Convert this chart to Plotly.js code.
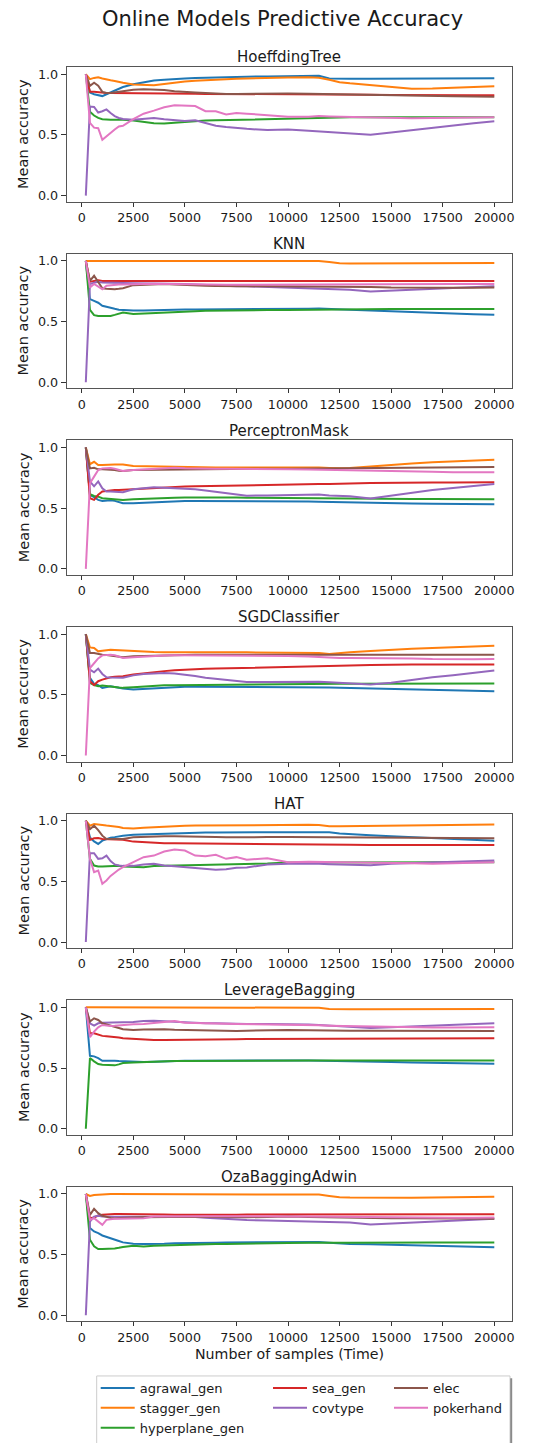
<!DOCTYPE html>
<html><head><meta charset="utf-8">
<script src="https://cdn.plot.ly/plotly-3.0.1.min.js"></script>
<style>html,body{margin:0;padding:0;background:#fff;}#chart{width:547px;height:1443px;}</style>
</head><body><div id="chart"></div>
<script>
// ---- data ----
const SAMPLES = [200,400,600,800,1000,1200,1400,1600,1800,2000,2500,3000,3500,4000,4500,5000,5500,6000,6500,7000,7500,8000,9000,10000,11000,11500,12000,12500,13000,14000,15000,16000,17000,18000,19000,20000];
const SERIES = ['agrawal_gen','stagger_gen','hyperplane_gen','sea_gen','covtype','elec','pokerhand'];
const COLORS = ['#1f77b4','#ff7f0e','#2ca02c','#d62728','#9467bd','#8c564b','#e377c2'];
const LEGEND_OF = ['legend','legend','legend','legend2','legend2','legend3','legend3'];
const MODELS = ['HoeffdingTree','KNN','PerceptronMask','SGDClassifier','HAT','LeverageBagging','OzaBaggingAdwin'];
const X_TICKS = [0,2500,5000,7500,10000,12500,15000,17500,20000];
const Y_TICKS = [0,0.5,1];

// each model: series in SERIES order
const HoeffdingTree = [
 [1.0,0.85,0.835,0.825,0.82,0.835,0.85,0.865,0.88,0.895,0.918,0.935,0.948,0.955,0.962,0.966,0.969,0.972,0.974,0.976,0.978,0.98,0.982,0.984,0.986,0.988,0.965,0.963,0.963,0.964,0.965,0.966,0.967,0.968,0.968,0.968],
 [1.0,0.96,0.97,0.975,0.965,0.955,0.95,0.945,0.935,0.93,0.915,0.91,0.91,0.92,0.932,0.94,0.946,0.952,0.956,0.958,0.962,0.965,0.97,0.974,0.976,0.972,0.955,0.935,0.925,0.91,0.893,0.88,0.882,0.888,0.895,0.902],
 [1.0,0.69,0.66,0.64,0.63,0.625,0.625,0.625,0.625,0.625,0.618,0.605,0.597,0.595,0.602,0.61,0.615,0.618,0.62,0.622,0.625,0.628,0.632,0.638,0.64,0.642,0.643,0.645,0.645,0.645,0.645,0.643,0.643,0.644,0.645,0.645],
 [1.0,0.855,0.855,0.85,0.848,0.846,0.845,0.845,0.845,0.843,0.845,0.845,0.843,0.842,0.84,0.84,0.84,0.838,0.838,0.838,0.838,0.838,0.838,0.838,0.838,0.838,0.836,0.835,0.834,0.832,0.83,0.828,0.827,0.826,0.826,0.826],
 [0.0,0.734,0.73,0.685,0.695,0.71,0.68,0.655,0.64,0.632,0.625,0.635,0.64,0.63,0.62,0.615,0.62,0.6,0.575,0.565,0.556,0.55,0.54,0.545,0.535,0.53,0.522,0.518,0.515,0.502,0.52,0.54,0.56,0.58,0.597,0.612],
 [1.0,0.904,0.93,0.905,0.855,0.845,0.845,0.85,0.855,0.862,0.872,0.877,0.876,0.87,0.86,0.852,0.85,0.845,0.84,0.838,0.838,0.84,0.84,0.842,0.84,0.838,0.836,0.835,0.833,0.828,0.824,0.822,0.82,0.818,0.816,0.814],
 [1.0,0.6,0.56,0.555,0.46,0.49,0.515,0.545,0.57,0.575,0.63,0.675,0.7,0.728,0.745,0.74,0.738,0.695,0.695,0.668,0.68,0.675,0.665,0.65,0.65,0.655,0.652,0.65,0.648,0.648,0.645,0.638,0.64,0.642,0.645,0.645]
];
const KNN = [
 [1.0,0.685,0.67,0.655,0.63,0.62,0.612,0.605,0.598,0.595,0.59,0.592,0.595,0.597,0.598,0.6,0.6,0.6,0.6,0.6,0.6,0.601,0.602,0.603,0.605,0.607,0.605,0.6,0.597,0.59,0.583,0.578,0.572,0.566,0.561,0.556],
 [1.0,1.0,1.0,1.0,1.0,1.0,1.0,1.0,1.0,1.0,1.0,1.0,1.0,1.0,1.0,1.0,1.0,1.0,1.0,1.0,1.0,1.0,1.0,1.0,1.0,0.998,0.99,0.98,0.978,0.978,0.979,0.98,0.981,0.982,0.983,0.983],
 [1.0,0.597,0.553,0.545,0.545,0.545,0.546,0.555,0.565,0.575,0.562,0.566,0.575,0.578,0.58,0.583,0.585,0.588,0.59,0.592,0.595,0.595,0.595,0.596,0.598,0.6,0.6,0.6,0.601,0.602,0.603,0.603,0.603,0.603,0.603,0.603],
 [1.0,0.827,0.835,0.84,0.835,0.835,0.835,0.835,0.833,0.832,0.833,0.833,0.832,0.832,0.83,0.83,0.83,0.83,0.83,0.83,0.83,0.831,0.831,0.832,0.832,0.832,0.833,0.833,0.833,0.834,0.834,0.835,0.835,0.835,0.835,0.835],
 [0.0,0.81,0.82,0.827,0.822,0.82,0.82,0.82,0.818,0.817,0.815,0.815,0.815,0.812,0.81,0.81,0.805,0.8,0.797,0.793,0.79,0.79,0.785,0.78,0.775,0.772,0.768,0.765,0.762,0.748,0.755,0.765,0.775,0.782,0.787,0.79],
 [1.0,0.835,0.877,0.82,0.773,0.77,0.767,0.767,0.77,0.775,0.8,0.805,0.808,0.81,0.805,0.8,0.798,0.795,0.793,0.79,0.79,0.79,0.79,0.79,0.79,0.79,0.79,0.79,0.788,0.785,0.78,0.778,0.778,0.778,0.779,0.78],
 [1.0,0.78,0.81,0.79,0.767,0.795,0.8,0.8,0.805,0.805,0.81,0.81,0.812,0.81,0.808,0.805,0.805,0.803,0.803,0.803,0.803,0.803,0.805,0.805,0.805,0.805,0.806,0.806,0.806,0.807,0.807,0.808,0.808,0.809,0.81,0.81]
];
const PerceptronMask = [
 [1.0,0.61,0.59,0.568,0.56,0.562,0.566,0.56,0.548,0.541,0.541,0.545,0.552,0.555,0.558,0.56,0.56,0.56,0.56,0.56,0.56,0.56,0.558,0.557,0.555,0.553,0.551,0.549,0.547,0.544,0.541,0.539,0.537,0.535,0.534,0.533],
 [1.0,0.863,0.882,0.855,0.855,0.858,0.86,0.86,0.86,0.86,0.847,0.845,0.842,0.84,0.838,0.836,0.836,0.836,0.836,0.836,0.836,0.837,0.838,0.84,0.838,0.836,0.832,0.828,0.832,0.845,0.86,0.869,0.878,0.886,0.893,0.9],
 [1.0,0.615,0.6,0.595,0.582,0.578,0.574,0.572,0.57,0.568,0.574,0.578,0.582,0.584,0.585,0.587,0.588,0.588,0.588,0.587,0.587,0.586,0.584,0.582,0.582,0.582,0.582,0.582,0.581,0.579,0.577,0.576,0.575,0.575,0.574,0.574],
 [1.0,0.582,0.568,0.61,0.637,0.642,0.646,0.65,0.65,0.652,0.656,0.662,0.667,0.671,0.675,0.678,0.68,0.682,0.684,0.686,0.69,0.692,0.695,0.7,0.7,0.7,0.7,0.7,0.703,0.707,0.71,0.711,0.712,0.712,0.713,0.713],
 [1.0,0.72,0.68,0.72,0.664,0.637,0.637,0.637,0.635,0.631,0.656,0.664,0.672,0.668,0.664,0.66,0.656,0.645,0.635,0.62,0.609,0.603,0.605,0.609,0.615,0.612,0.605,0.601,0.598,0.58,0.605,0.628,0.65,0.667,0.683,0.7],
 [1.0,0.828,0.833,0.82,0.82,0.82,0.82,0.815,0.808,0.806,0.815,0.816,0.818,0.82,0.82,0.82,0.82,0.822,0.823,0.825,0.825,0.825,0.825,0.825,0.826,0.826,0.827,0.828,0.829,0.831,0.833,0.834,0.835,0.837,0.838,0.839],
 [0.0,0.705,0.76,0.814,0.828,0.83,0.83,0.825,0.815,0.806,0.815,0.82,0.828,0.83,0.833,0.828,0.825,0.825,0.825,0.825,0.825,0.823,0.822,0.82,0.818,0.817,0.815,0.814,0.813,0.812,0.81,0.805,0.8,0.796,0.795,0.795]
];
const SGDClassifier = [
 [1.0,0.64,0.59,0.58,0.557,0.565,0.571,0.565,0.558,0.552,0.544,0.548,0.557,0.56,0.563,0.566,0.566,0.566,0.566,0.566,0.566,0.566,0.566,0.566,0.566,0.563,0.56,0.557,0.555,0.55,0.544,0.54,0.537,0.534,0.532,0.53],
 [1.0,0.89,0.885,0.858,0.863,0.868,0.872,0.87,0.868,0.866,0.858,0.855,0.852,0.851,0.85,0.85,0.85,0.85,0.85,0.85,0.85,0.85,0.85,0.85,0.848,0.844,0.836,0.844,0.85,0.861,0.872,0.879,0.886,0.893,0.899,0.904],
 [1.0,0.598,0.58,0.571,0.576,0.574,0.571,0.565,0.56,0.557,0.563,0.568,0.576,0.578,0.579,0.58,0.582,0.583,0.584,0.585,0.585,0.585,0.585,0.585,0.587,0.588,0.589,0.59,0.59,0.59,0.59,0.591,0.592,0.592,0.593,0.593],
 [1.0,0.612,0.58,0.612,0.625,0.635,0.645,0.648,0.65,0.653,0.667,0.678,0.689,0.695,0.702,0.708,0.711,0.714,0.716,0.718,0.721,0.724,0.729,0.735,0.737,0.738,0.739,0.74,0.742,0.745,0.749,0.749,0.749,0.749,0.749,0.749],
 [1.0,0.708,0.686,0.716,0.672,0.645,0.642,0.64,0.64,0.64,0.66,0.672,0.676,0.68,0.675,0.667,0.655,0.64,0.632,0.622,0.612,0.605,0.605,0.607,0.61,0.607,0.603,0.6,0.595,0.585,0.6,0.625,0.645,0.662,0.68,0.7],
 [1.0,0.844,0.845,0.835,0.83,0.828,0.825,0.82,0.815,0.81,0.817,0.82,0.822,0.825,0.828,0.83,0.83,0.83,0.83,0.83,0.83,0.83,0.83,0.83,0.83,0.83,0.83,0.83,0.83,0.83,0.83,0.83,0.83,0.83,0.83,0.83],
 [0.0,0.72,0.76,0.8,0.825,0.83,0.83,0.825,0.815,0.803,0.81,0.815,0.822,0.824,0.825,0.825,0.823,0.822,0.822,0.822,0.821,0.821,0.82,0.82,0.815,0.81,0.806,0.803,0.803,0.803,0.803,0.8,0.795,0.792,0.793,0.795]
];
const HAT = [
 [1.0,0.863,0.83,0.809,0.836,0.85,0.86,0.865,0.872,0.877,0.885,0.888,0.89,0.895,0.9,0.904,0.904,0.904,0.904,0.904,0.905,0.906,0.908,0.91,0.91,0.91,0.905,0.895,0.888,0.88,0.872,0.864,0.856,0.848,0.842,0.836],
 [1.0,0.959,0.973,0.967,0.965,0.96,0.957,0.954,0.948,0.94,0.937,0.942,0.947,0.952,0.956,0.959,0.96,0.961,0.962,0.963,0.964,0.965,0.966,0.967,0.967,0.965,0.954,0.954,0.955,0.957,0.96,0.962,0.965,0.967,0.969,0.97],
 [1.0,0.686,0.631,0.623,0.623,0.625,0.628,0.631,0.628,0.623,0.617,0.617,0.626,0.628,0.63,0.631,0.633,0.634,0.635,0.636,0.639,0.642,0.648,0.656,0.656,0.656,0.656,0.656,0.656,0.656,0.656,0.657,0.657,0.658,0.658,0.658],
 [1.0,0.842,0.855,0.858,0.85,0.848,0.847,0.846,0.845,0.844,0.828,0.822,0.817,0.815,0.815,0.814,0.813,0.812,0.811,0.81,0.809,0.808,0.806,0.803,0.803,0.803,0.803,0.803,0.802,0.801,0.8,0.8,0.8,0.8,0.8,0.8],
 [0.0,0.732,0.732,0.686,0.691,0.713,0.667,0.64,0.632,0.628,0.628,0.64,0.645,0.631,0.625,0.617,0.612,0.604,0.596,0.6,0.612,0.615,0.64,0.645,0.648,0.645,0.642,0.64,0.638,0.634,0.645,0.65,0.655,0.66,0.667,0.672],
 [1.0,0.93,0.959,0.923,0.877,0.85,0.85,0.85,0.85,0.85,0.863,0.868,0.872,0.872,0.872,0.872,0.87,0.868,0.866,0.864,0.863,0.864,0.865,0.865,0.864,0.863,0.863,0.863,0.862,0.861,0.86,0.86,0.859,0.858,0.856,0.855],
 [1.0,0.686,0.577,0.59,0.481,0.508,0.545,0.575,0.598,0.617,0.658,0.7,0.713,0.746,0.762,0.754,0.713,0.708,0.719,0.686,0.7,0.678,0.691,0.658,0.663,0.662,0.658,0.66,0.66,0.66,0.655,0.65,0.645,0.648,0.652,0.658]
];
const LeverageBagging = [
 [1.0,0.601,0.596,0.582,0.56,0.562,0.563,0.56,0.557,0.555,0.552,0.549,0.552,0.556,0.558,0.56,0.56,0.561,0.561,0.561,0.562,0.562,0.563,0.563,0.563,0.562,0.561,0.56,0.558,0.553,0.549,0.546,0.543,0.54,0.538,0.536],
 [1.0,1.0,1.0,1.0,1.0,1.0,1.0,1.0,1.0,1.0,1.0,1.0,1.0,1.0,1.0,1.0,1.0,1.0,1.0,1.0,1.0,1.0,1.0,1.0,1.0,0.997,0.987,0.984,0.984,0.984,0.984,0.985,0.985,0.985,0.986,0.986],
 [0.0,0.582,0.555,0.533,0.527,0.525,0.523,0.522,0.53,0.541,0.546,0.55,0.555,0.556,0.557,0.557,0.558,0.558,0.559,0.56,0.56,0.561,0.562,0.563,0.563,0.563,0.563,0.563,0.564,0.565,0.566,0.566,0.565,0.564,0.563,0.563],
 [1.0,0.787,0.787,0.773,0.765,0.762,0.76,0.757,0.752,0.746,0.74,0.736,0.732,0.732,0.732,0.732,0.733,0.734,0.735,0.736,0.738,0.739,0.74,0.74,0.74,0.74,0.74,0.74,0.741,0.741,0.742,0.743,0.744,0.745,0.746,0.746],
 [1.0,0.869,0.85,0.869,0.874,0.874,0.874,0.874,0.874,0.874,0.88,0.888,0.89,0.885,0.88,0.874,0.872,0.87,0.868,0.866,0.863,0.863,0.863,0.863,0.858,0.855,0.85,0.847,0.843,0.83,0.836,0.842,0.848,0.855,0.862,0.869],
 [1.0,0.883,0.91,0.896,0.869,0.86,0.852,0.845,0.83,0.82,0.814,0.818,0.822,0.82,0.816,0.814,0.812,0.81,0.808,0.807,0.806,0.808,0.812,0.814,0.812,0.81,0.809,0.809,0.808,0.807,0.806,0.805,0.804,0.803,0.805,0.806],
 [1.0,0.754,0.8,0.836,0.855,0.85,0.847,0.848,0.852,0.855,0.86,0.863,0.87,0.88,0.888,0.874,0.87,0.868,0.866,0.864,0.863,0.862,0.861,0.861,0.855,0.852,0.849,0.847,0.846,0.844,0.842,0.838,0.834,0.833,0.834,0.836]
];
const OzaBaggingAdwin = [
 [1.0,0.719,0.691,0.678,0.658,0.645,0.635,0.623,0.612,0.601,0.59,0.588,0.587,0.59,0.593,0.596,0.597,0.598,0.599,0.6,0.601,0.602,0.604,0.605,0.605,0.604,0.598,0.59,0.588,0.585,0.582,0.579,0.575,0.571,0.566,0.56],
 [1.0,0.984,0.992,0.995,0.997,0.998,0.999,1.0,1.0,1.0,1.0,1.0,1.0,1.0,1.0,1.0,1.0,1.0,1.0,1.0,1.0,1.0,1.0,1.0,1.0,0.995,0.984,0.973,0.97,0.968,0.967,0.968,0.971,0.974,0.976,0.978],
 [1.0,0.623,0.568,0.546,0.546,0.546,0.546,0.55,0.556,0.563,0.574,0.568,0.574,0.577,0.58,0.582,0.584,0.586,0.587,0.588,0.59,0.591,0.593,0.596,0.598,0.6,0.601,0.598,0.598,0.6,0.601,0.601,0.601,0.601,0.601,0.601],
 [1.0,0.8,0.806,0.822,0.828,0.832,0.834,0.836,0.836,0.835,0.833,0.832,0.831,0.83,0.829,0.828,0.828,0.828,0.829,0.829,0.829,0.83,0.83,0.83,0.83,0.831,0.831,0.832,0.832,0.832,0.833,0.833,0.833,0.833,0.833,0.833],
 [0.0,0.773,0.814,0.82,0.814,0.814,0.814,0.814,0.813,0.812,0.81,0.81,0.812,0.814,0.815,0.814,0.81,0.805,0.8,0.795,0.787,0.785,0.782,0.779,0.775,0.77,0.768,0.768,0.765,0.748,0.757,0.765,0.772,0.78,0.788,0.795],
 [1.0,0.828,0.877,0.842,0.82,0.81,0.803,0.8,0.8,0.8,0.806,0.808,0.81,0.812,0.813,0.814,0.812,0.81,0.808,0.807,0.806,0.808,0.811,0.814,0.81,0.808,0.806,0.806,0.805,0.802,0.8,0.8,0.8,0.799,0.797,0.795],
 [1.0,0.787,0.8,0.773,0.746,0.787,0.792,0.795,0.795,0.795,0.795,0.8,0.814,0.815,0.818,0.82,0.818,0.817,0.816,0.815,0.815,0.815,0.815,0.815,0.815,0.814,0.814,0.814,0.813,0.811,0.81,0.808,0.806,0.805,0.805,0.806]
];
const MODEL_DATA = [HoeffdingTree, KNN, PerceptronMask, SGDClassifier, HAT, LeverageBagging, OzaBaggingAdwin];

// ---- layout geometry (pixels) ----
const W = 547, H = 1443;
const PLOT_L = 66.7, PLOT_R = 511.7;
const TOP0 = 67.5, STEP = 187.4, PH = 135;
const FONT = 'DejaVu Sans, Liberation Sans, sans-serif';
const TXT = '#1a1a1a';
const px = v => v / W, py = v => 1 - v / H;

const traces = [];
const layout = {
  width: W, height: H,
  margin: {l: 0, r: 0, t: 0, b: 0},
  paper_bgcolor: '#fff', plot_bgcolor: '#fff',
  font: {family: FONT, color: TXT, size: 12.7},
  showlegend: true,
  title: {text: 'Online Models Predictive Accuracy', font: {family: FONT, size: 21, color: TXT},
          xref: 'container', yref: 'container', x: 282.5 / W, y: py(18.4), xanchor: 'center', yanchor: 'middle'},
  annotations: [], shapes: []
};

MODELS.forEach((m, i) => {
  const k = i === 0 ? '' : String(i + 1);
  const top = TOP0 + STEP * i, bot = top + PH;
  layout['xaxis' + k] = {
    domain: [px(PLOT_L), px(PLOT_R)], range: [-727, 20843], anchor: 'y' + k,
    tickvals: X_TICKS, tickformat: 'd', ticks: 'outside', ticklen: 4, tickwidth: 1, tickcolor: '#333',
    showline: true, mirror: true, linecolor: '#555', linewidth: 1, showgrid: false, zeroline: false,
    tickfont: {family: FONT, size: 12.7, color: TXT}, fixedrange: true
  };
  layout['yaxis' + k] = {
    domain: [py(bot), py(top)], range: [-0.05, 1.058], anchor: 'x' + k,
    tickvals: Y_TICKS, tickformat: '.1f', ticks: 'outside', ticklen: 5, tickwidth: 1, tickcolor: '#333',
    showline: true, mirror: true, linecolor: '#555', linewidth: 1, showgrid: false, zeroline: false,
    tickfont: {family: FONT, size: 12.7, color: TXT}, fixedrange: true
  };
  layout.annotations.push({
    text: m, xref: 'paper', yref: 'paper', x: px((PLOT_L + PLOT_R) / 2), y: py(top - 10),
    xanchor: 'center', yanchor: 'middle', showarrow: false, font: {family: FONT, size: 15, color: TXT}
  });
  layout.annotations.push({
    text: 'Mean accuracy', xref: 'paper', yref: 'paper', x: px(23.5), y: py((top + bot) / 2),
    xanchor: 'center', yanchor: 'middle', textangle: -90, showarrow: false,
    font: {family: FONT, size: 14.5, color: TXT}
  });
  MODEL_DATA[i].forEach((vals, s) => {
    traces.push({
      type: 'scatter', mode: 'lines', x: SAMPLES, y: vals, name: SERIES[s],
      xaxis: 'x' + k, yaxis: 'y' + k,
      line: {color: COLORS[s], width: 2},
      showlegend: i === 0, legend: LEGEND_OF[s], hoverinfo: 'skip'
    });
  });
});

layout.annotations.push({
  text: 'Number of samples (Time)', xref: 'paper', yref: 'paper', x: px((PLOT_L + PLOT_R) / 2), y: py(1359.4),
  xanchor: 'center', yanchor: 'middle', showarrow: false, font: {family: FONT, size: 14.2, color: TXT}
});

// legend box and shadow
layout.shapes.push({type: 'rect', xref: 'paper', yref: 'paper', x0: px(96.7), x1: px(510), y0: py(1460), y1: py(1381.7),
  line: {color: '#cccccc', width: 1}, fillcolor: 'rgba(255,255,255,0.8)', layer: 'above'});
layout.shapes.push({type: 'line', xref: 'paper', yref: 'paper', x0: px(511.2), x1: px(511.2), y0: py(1460), y1: py(1384),
  line: {color: '#8a8a8a', width: 2}, layer: 'above'});

const legBase = {orientation: 'v', bgcolor: 'rgba(0,0,0,0)', borderwidth: 0, itemwidth: 34,
  font: {family: FONT, size: 13, color: TXT}, xanchor: 'left', yanchor: 'top', y: py(1378.7), itemclick: false, itemdoubleclick: false};
layout.legend = Object.assign({}, legBase, {x: px(95.7)});
layout.legend2 = Object.assign({}, legBase, {x: px(268)});
layout.legend3 = Object.assign({}, legBase, {x: px(389)});

Plotly.newPlot('chart', traces, layout, {displayModeBar: false, staticPlot: true});
</script>
</body></html>
